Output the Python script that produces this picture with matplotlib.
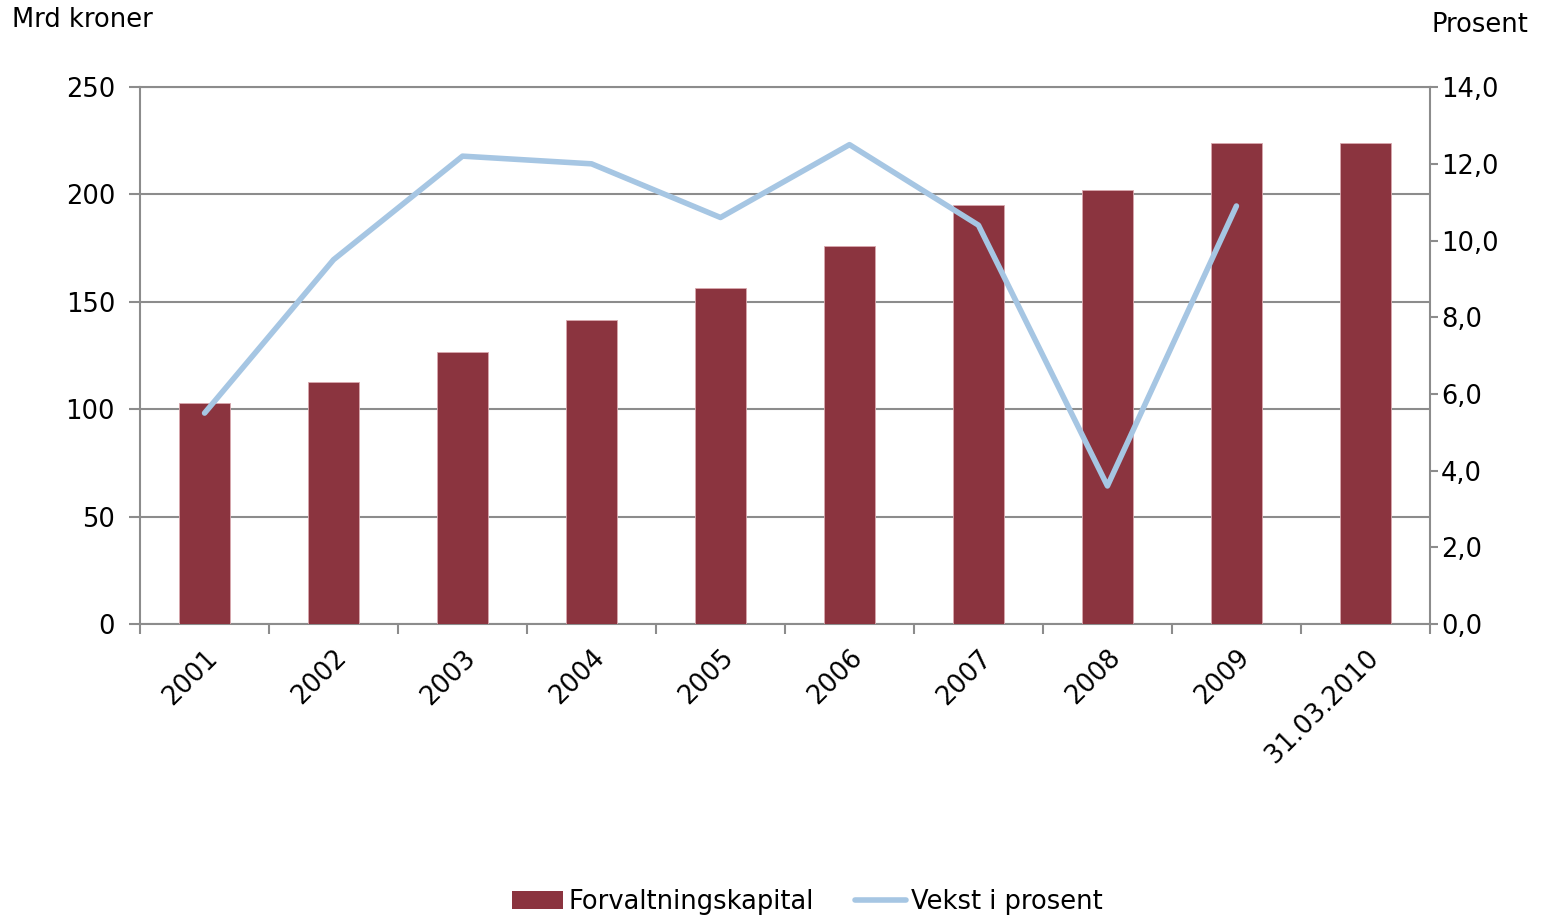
import numpy as np
import matplotlib.pyplot as plt
from matplotlib.lines import Line2D
from matplotlib.patches import Patch

# data
categories = ["2001", "2002", "2003", "2004", "2005", "2006", "2007", "2008", "2009", "31.03.2010"]
kapital = [103, 112.5, 126.5, 141.5, 156.5, 176, 195, 202, 224, 224]
vekst = [5.5, 9.5, 12.2, 12.0, 10.6, 12.5, 10.4, 3.6, 10.9]

bar_color = "#8B343F"
line_color = "#A6C6E3"
grid_color = "#8C8C8C"
fs = 18.5

plt.rcParams["font.family"] = ["DejaVu Sans"]

fig = plt.figure(figsize=(15.41, 9.17), dpi=100)
ax = fig.add_axes([0.0909, 0.3195, 0.837, 0.5855])
ax2 = ax.twinx()

x = np.arange(len(categories))
ax.bar(x, kapital, width=0.4, color=bar_color, edgecolor="#D9A8AE", linewidth=0.6, zorder=3)
ax.set_xlim(-0.5, len(categories) - 0.5)
ax.set_ylim(0, 250)
ax.set_yticks(range(0, 251, 50))
ax.yaxis.grid(True, color=grid_color, linewidth=1.5, zorder=0)
ax.set_axisbelow(True)

ax2.plot(x[:len(vekst)], vekst, color=line_color, linewidth=4, solid_capstyle="round", zorder=4)
ax2.set_ylim(0, 14)
ax2.set_yticks(np.arange(0, 14.1, 2))
ax2.set_yticklabels([f"{v:.1f}".replace(".", ",") for v in np.arange(0, 14.1, 2)])

# category ticks between bars
ax.set_xticks(np.arange(-0.5, len(categories), 1), minor=False)
ax.set_xticklabels([])
ax.set_xticks(x, minor=True)
ax.set_xticklabels(categories, minor=True, rotation=45, ha="right", rotation_mode="anchor", fontsize=fs)
ax.tick_params(axis="x", which="minor", length=0, pad=15)
ax.tick_params(axis="x", which="major", length=7, width=1.5, color=grid_color)

for a in (ax, ax2):
    for s in a.spines.values():
        s.set_visible(False)
for a, side in ((ax, "left"), (ax, "bottom"), (ax2, "right"), (ax2, "top")):
    a.spines[side].set_visible(True)
    a.spines[side].set_color(grid_color)
    a.spines[side].set_linewidth(1.5)

ax.tick_params(axis="y", length=8, width=1.5, color=grid_color, labelsize=fs, pad=10)
ax2.tick_params(axis="y", length=6, width=1.5, color=grid_color, labelsize=fs, pad=2)

fig.text(0.008, 0.978, "Mrd kroner", fontsize=fs, ha="left", va="center")
fig.text(0.992, 0.973, "Prosent", fontsize=fs, ha="right", va="center")

handles = [
    Patch(facecolor=bar_color, edgecolor="none"),
    Line2D([0], [0], color=line_color, linewidth=4, solid_capstyle="round"),
]
fig.legend(handles, ["Forvaltningskapital", "Vekst i prosent"], loc="center",
           bbox_to_anchor=(0.524, 0.016), ncol=2, frameon=False, fontsize=fs,
           handlelength=2.0, handletextpad=0.2, columnspacing=1.6)

fig.savefig("out.png", dpi=100)
